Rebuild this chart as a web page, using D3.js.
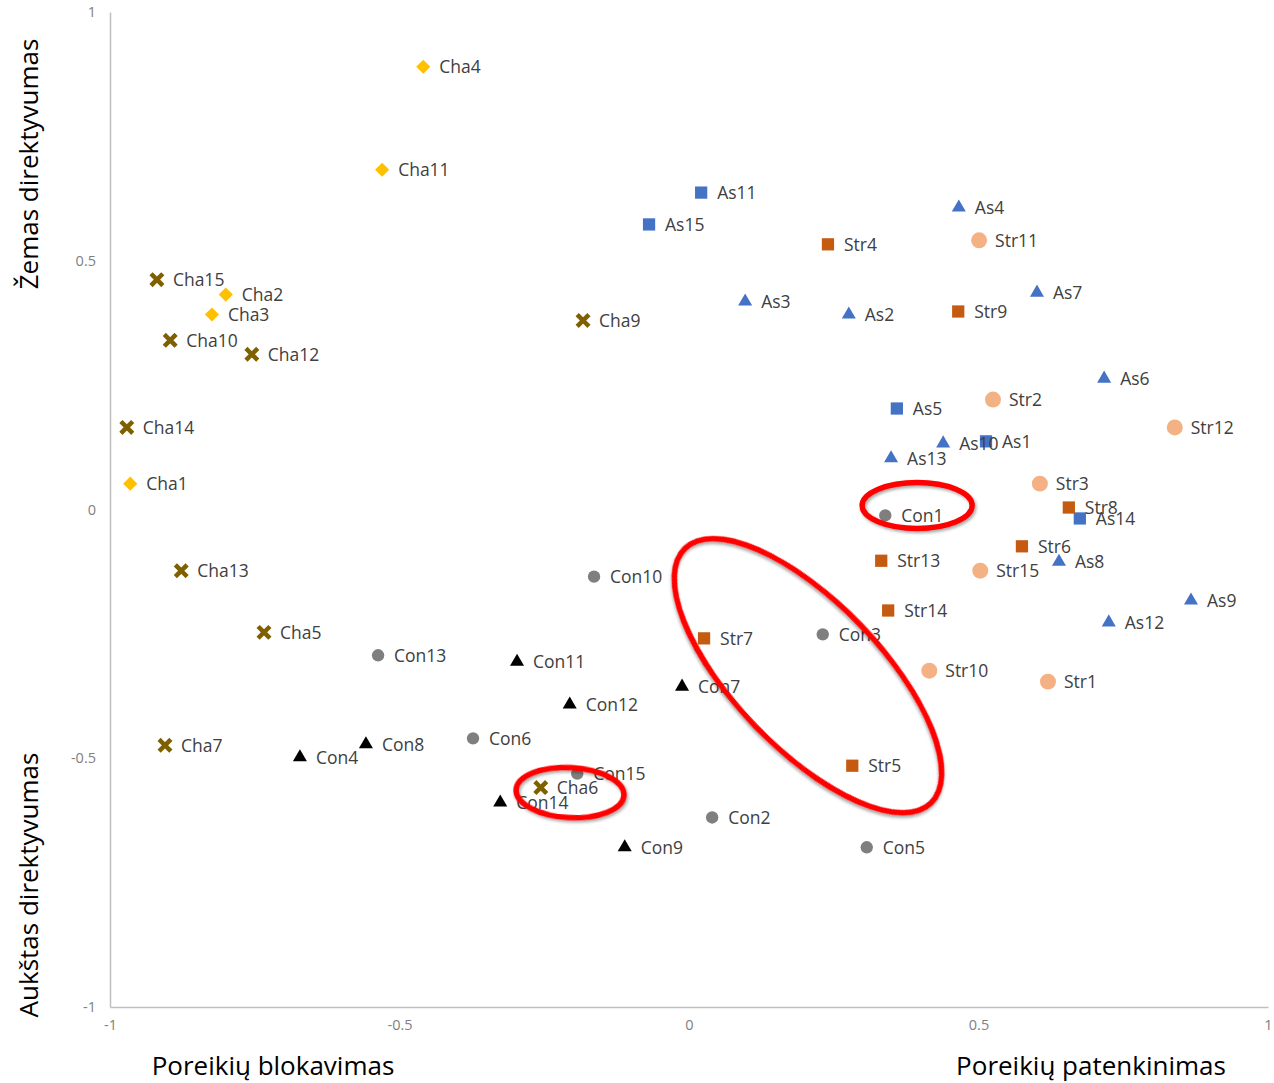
<!DOCTYPE html>
<html>
<head>
<meta charset="utf-8">
<script src="https://cdn.jsdelivr.net/npm/d3@7"></script>
<style>
  body { margin: 0; background: #fff; }
  svg { display: block; }
  .pt-label { font-family: "Open Sans", sans-serif; font-size: 17.5px; fill: #404040; }
  .tick text { font-family: "Open Sans", sans-serif; font-size: 14.5px; fill: #7f7f7f; }
  .axis-title { font-family: "Open Sans", sans-serif; font-size: 26px; fill: #000; }
</style>
</head>
<body>
<div id="chart"></div>
<script>
// Data: [label, x, y]
const chaDiamond = [
  ["Cha4", -0.459, 0.890], ["Cha11", -0.530, 0.683], ["Cha2", -0.800, 0.432],
  ["Cha3", -0.824, 0.392], ["Cha1", -0.965, 0.052]
]
const chaCross = [
  ["Cha15", -0.919, 0.462], ["Cha9", -0.183, 0.380], ["Cha10", -0.896, 0.340],
  ["Cha12", -0.755, 0.312], ["Cha14", -0.971, 0.165], ["Cha13", -0.877, -0.123],
  ["Cha5", -0.734, -0.247], ["Cha7", -0.905, -0.474], ["Cha6", -0.256, -0.559]
]
const asSquare = [
  ["As11", 0.021, 0.637], ["As15", -0.069, 0.573], ["As5", 0.359, 0.203],
  ["As1", 0.513, 0.137], ["As14", 0.675, -0.018]
]
const asTriangle = [
  ["As4", 0.466, 0.607], ["As7", 0.601, 0.436], ["As3", 0.097, 0.418],
  ["As2", 0.276, 0.392], ["As6", 0.717, 0.263], ["As10", 0.439, 0.133],
  ["As13", 0.349, 0.103], ["As8", 0.639, -0.105], ["As9", 0.867, -0.183],
  ["As12", 0.725, -0.227]
]
const strSquare = [
  ["Str4", 0.240, 0.533], ["Str9", 0.465, 0.398], ["Str8", 0.656, 0.004],
  ["Str6", 0.575, -0.074], ["Str13", 0.332, -0.103], ["Str14", 0.344, -0.203],
  ["Str7", 0.026, -0.259], ["Str5", 0.282, -0.515]
]
const strCircle = [
  ["Str11", 0.501, 0.541], ["Str2", 0.525, 0.221], ["Str12", 0.839, 0.165],
  ["Str3", 0.606, 0.052], ["Str15", 0.503, -0.123], ["Str10", 0.415, -0.324],
  ["Str1", 0.620, -0.346]
]
const conCircle = [
  ["Con1", 0.339, -0.012], ["Con10", -0.164, -0.135], ["Con3", 0.231, -0.251],
  ["Con13", -0.537, -0.293], ["Con6", -0.373, -0.460], ["Con15", -0.193, -0.531],
  ["Con2", 0.040, -0.619], ["Con5", 0.307, -0.679]
]
const conTriangle = [
  ["Con11", -0.297, -0.306], ["Con7", -0.012, -0.356], ["Con12", -0.206, -0.392],
  ["Con8", -0.558, -0.472], ["Con4", -0.672, -0.498], ["Con14", -0.326, -0.589],
  ["Con9", -0.111, -0.679]
]
const tickValues = [-1, -0.5, 0, 0.5, 1]

// Red highlight ellipses: [x, y, rx(px), ry(px), angle]
const highlights = [
  [0.394, 0.008, 55, 23, 0],
  [-0.2055, -0.569, 54, 25, 3],
  [0.2055, -0.334, 177, 73, 46]
]

const series = [
  { data: chaDiamond, symbol: d3.symbolSquare, size: 100, fill: "#FFC000", rotate: 45 },
  { data: chaCross, symbol: d3.symbolX, size: 50, fill: "none", stroke: "#7F6000" },
  { data: asSquare, symbol: d3.symbolSquare, size: 150, fill: "#4472C4" },
  { data: asTriangle, symbol: d3.symbolTriangle, size: 85, fill: "#4472C4" },
  { data: strSquare, symbol: d3.symbolSquare, size: 150, fill: "#C55A11" },
  { data: strCircle, symbol: d3.symbolCircle, size: 200, fill: "#F4B183" },
  { data: conCircle, symbol: d3.symbolCircle, size: 120, fill: "#7F7F7F" },
  { data: conTriangle, symbol: d3.symbolTriangle, size: 85, fill: "#000000" }
]

const width = 1274
const height = 1083
const margin = { top: 12, right: 6, bottom: 76, left: 110 }

const svg = d3.select("#chart")
  .append("svg")
  .attr("width", width)
  .attr("height", height)

const defs = svg.append("defs")
defs.append("filter")
  .attr("id", "shadow")
  .attr("x", "-20%").attr("y", "-20%").attr("width", "140%").attr("height", "140%")
  .append("feDropShadow")
    .attr("dx", 1.5).attr("dy", 2).attr("stdDeviation", 1.5)
    .attr("flood-color", "#000").attr("flood-opacity", 0.35)

const xScale = d3.scaleLinear()
  .domain([-1, 1])
  .range([margin.left, width - margin.right])

const yScale = d3.scaleLinear()
  .domain([-1, 1])
  .range([height - margin.bottom, margin.top])

// Axes
const xAxis = svg.append("g")
  .attr("transform", `translate(0, ${yScale(-1)})`)
  .call(d3.axisBottom(xScale).tickValues(tickValues).tickSize(0).tickPadding(13).tickFormat(d => String(d)))
xAxis.select(".domain").attr("stroke", "#BFBFBF").attr("stroke-width", 1.5)

const yAxis = svg.append("g")
  .attr("transform", `translate(${xScale(-1)}, 0)`)
  .call(d3.axisLeft(yScale).tickValues(tickValues).tickSize(0).tickPadding(14).tickFormat(d => String(d)))
yAxis.select(".domain").attr("stroke", "#BFBFBF").attr("stroke-width", 1.5)

// Markers
series.forEach(s => {
  svg.append("g")
    .selectAll("path")
    .data(s.data)
    .join("path")
      .attr("transform", d => `translate(${xScale(d[1])}, ${yScale(d[2])}) rotate(${s.rotate || 0})`)
      .attr("d", d3.symbol().type(s.symbol).size(s.size))
      .attr("fill", s.fill)
      .attr("stroke", s.stroke || "none")
      .attr("stroke-width", s.stroke ? 4.5 : 0)
      .attr("stroke-linecap", "square")
})

// Labels
series.forEach(s => {
  svg.append("g")
    .selectAll("text")
    .data(s.data)
    .join("text")
      .attr("class", "pt-label")
      .attr("x", d => xScale(d[1]) + 16)
      .attr("y", d => yScale(d[2]))
      .attr("dy", "0.36em")
      .text(d => d[0])
})

// Highlight ellipses
svg.append("g")
  .selectAll("ellipse")
  .data(highlights)
  .join("ellipse")
    .attr("transform", d => `translate(${xScale(d[0])}, ${yScale(d[1])}) rotate(${d[4]})`)
    .attr("rx", d => d[2])
    .attr("ry", d => d[3])
    .attr("fill", "none")
    .attr("stroke", "#FF0000")
    .attr("stroke-width", 5.5)
    .attr("filter", "url(#shadow)")

// Axis titles
svg.append("text")
  .attr("class", "axis-title")
  .attr("x", 273).attr("y", 1075)
  .attr("text-anchor", "middle")
  .text("Poreikių blokavimas")

svg.append("text")
  .attr("class", "axis-title")
  .attr("x", 1091).attr("y", 1075)
  .attr("text-anchor", "middle")
  .text("Poreikių patenkinimas")

svg.append("text")
  .attr("class", "axis-title")
  .attr("transform", "translate(38, 164) rotate(-90)")
  .attr("text-anchor", "middle")
  .text("Žemas direktyvumas")

svg.append("text")
  .attr("class", "axis-title")
  .attr("transform", "translate(38, 885) rotate(-90)")
  .attr("text-anchor", "middle")
  .text("Aukštas direktyvumas")
</script>
</body>
</html>
